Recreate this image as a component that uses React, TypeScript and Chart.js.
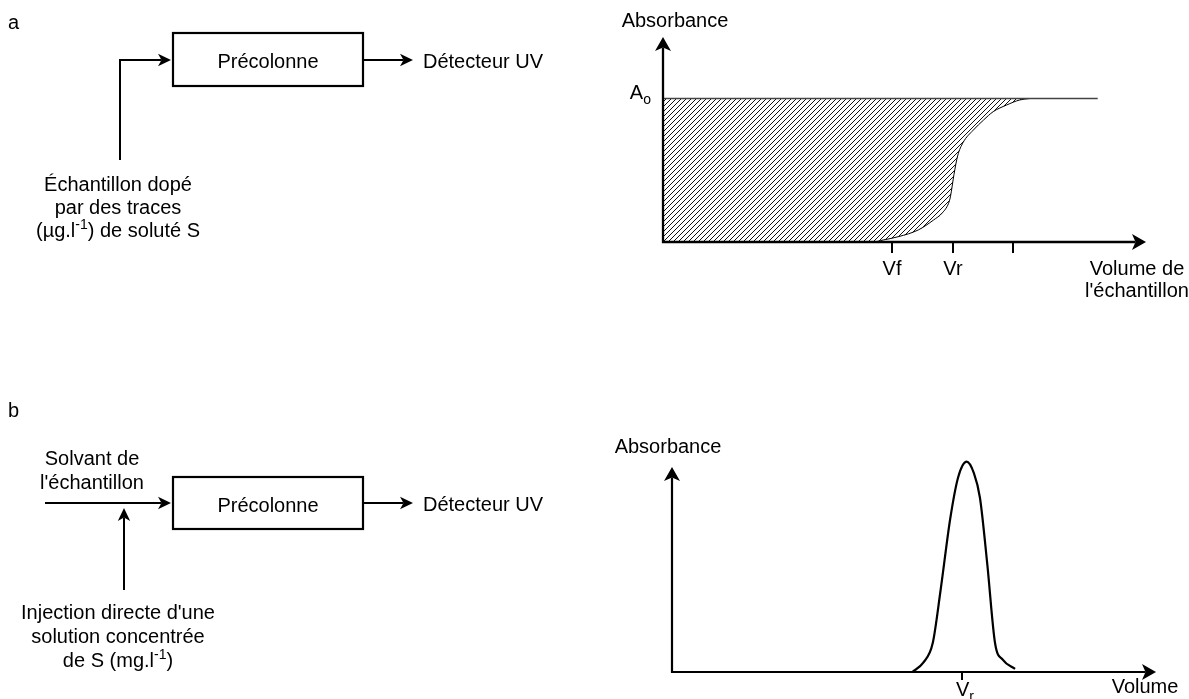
import React, { useEffect, useRef } from 'react';
import { Chart, registerables } from 'chart.js';

Chart.register(...registerables);

const FONT = '"Liberation Sans", Arial, Helvetica, sans-serif';
const FS = 20;

// ---------- Panel a : breakthrough curve ----------
const curveVolumes = [0, 34.8, 36.5, 39.0, 42.3, 44.8, 46.2, 47.3, 47.6, 48.2, 48.8, 49.7, 51.4, 53.1, 54.7, 56.9, 59.1, 60.8];
const curveAbsorbance = [0, 0, 1.0, 2.6, 5.9, 10.7, 14.0, 18.9, 22, 33, 42, 48.5, 54.6, 59.5, 63.6, 66.8, 69.3, 70];
const plateauVolumes = [0, 72];
const plateauAbsorbance = [70, 70];
const topTickValues = [38, 48, 58];
const topTickLabels = ['Vf', 'Vr', ''];
const topA0Value = 70;

// ---------- Panel b : elution peak ----------
const peakVolumes = [39.7, 41.5, 43.1, 44.4, 46.0, 47.3, 48.7, 49.9, 50.9, 52.1, 53.4, 54.7, 56.7];
const peakAbsorbance = [0, 4.4, 14.1, 40, 75, 95, 102.6, 97, 85, 53, 14, 5.9, 1.5];
const bottomTickValues = [48];
const bottomTickLabels: [string, string][] = [['V', 'r']];

// ---------- texts ----------
const labelA = 'a';
const labelB = 'b';
const boxText = 'Précolonne';
const detectorText = 'Détecteur UV';
const absorbanceText = 'Absorbance';
const topXTitle = ['Volume de', "l'échantillon"];
const bottomXTitle = 'Volume';
type Seg = { t: string; s?: 'sup' | 'sub' };
const sampleA: Seg[][] = [
  [{ t: 'Échantillon dopé' }],
  [{ t: 'par des traces' }],
  [{ t: '(µg.l' }, { t: '-1', s: 'sup' }, { t: ') de soluté S' }],
];
const solventB = ['Solvant de', "l'échantillon"];
const injectionB: Seg[][] = [
  [{ t: "Injection directe d'une" }],
  [{ t: 'solution concentrée' }],
  [{ t: 'de S (mg.l' }, { t: '-1', s: 'sup' }, { t: ')' }],
];

function toPts(xs: number[], ys: number[]) {
  return xs.map((x, i) => ({ x, y: ys[i] }));
}

function richLine(ctx: CanvasRenderingContext2D, segs: Seg[], x: number, y: number, align: 'center' | 'left' | 'right', size = FS) {
  const big = `${size}px ${FONT}`;
  const small = `${Math.round(size * 0.68)}px ${FONT}`;
  let total = 0;
  const widths = segs.map((sg) => {
    ctx.font = sg.s ? small : big;
    const w = ctx.measureText(sg.t).width;
    total += w;
    return w;
  });
  let cx = align === 'center' ? x - total / 2 : align === 'right' ? x - total : x;
  ctx.textAlign = 'left';
  ctx.textBaseline = 'alphabetic';
  ctx.fillStyle = '#000';
  segs.forEach((sg, i) => {
    ctx.font = sg.s ? small : big;
    const dy = sg.s === 'sup' ? -size * 0.38 : sg.s === 'sub' ? size * 0.25 : 0;
    ctx.fillText(sg.t, cx, y + dy);
    cx += widths[i];
  });
}

function text(ctx: CanvasRenderingContext2D, t: string, x: number, y: number, align: CanvasTextAlign = 'center') {
  ctx.font = `${FS}px ${FONT}`;
  ctx.textAlign = align;
  ctx.textBaseline = 'alphabetic';
  ctx.fillStyle = '#000';
  ctx.fillText(t, x, y);
}

function head(ctx: CanvasRenderingContext2D, tx: number, ty: number, dx: number, dy: number, len: number, hw: number, notch: number) {
  const px = -dy, py = dx;
  const bx = tx - dx * len, by = ty - dy * len;
  ctx.beginPath();
  ctx.moveTo(tx, ty);
  ctx.lineTo(bx + px * hw, by + py * hw);
  ctx.lineTo(tx - dx * (len - notch), ty - dy * (len - notch));
  ctx.lineTo(bx - px * hw, by - py * hw);
  ctx.closePath();
  ctx.fillStyle = '#000';
  ctx.fill();
}

function polyArrow(ctx: CanvasRenderingContext2D, pts: [number, number][], lw = 2, len = 13, hw = 6.2, notch = 3.5) {
  const n = pts.length;
  const [x2, y2] = pts[n - 1];
  const [x1, y1] = pts[n - 2];
  const d = Math.hypot(x2 - x1, y2 - y1);
  const dx = (x2 - x1) / d, dy = (y2 - y1) / d;
  ctx.strokeStyle = '#000';
  ctx.lineWidth = lw;
  ctx.lineJoin = 'miter';
  ctx.lineCap = 'butt';
  ctx.beginPath();
  ctx.moveTo(pts[0][0], pts[0][1]);
  for (let i = 1; i < n - 1; i++) ctx.lineTo(pts[i][0], pts[i][1]);
  ctx.lineTo(x2 - dx * (len - notch), y2 - dy * (len - notch));
  ctx.stroke();
  head(ctx, x2, y2, dx, dy, len, hw, notch);
}

function box(ctx: CanvasRenderingContext2D, x: number, y: number, w: number, h: number) {
  ctx.strokeStyle = '#000';
  ctx.lineWidth = 2.2;
  ctx.strokeRect(x, y, w, h);
}

function drawAxes(ctx: CanvasRenderingContext2D, x0: number, y0: number, yTip: number, xTip: number, lw: number) {
  const len = 14, hw = 8, notch = 3.5;
  ctx.strokeStyle = '#000';
  ctx.lineWidth = lw;
  ctx.lineJoin = 'miter';
  ctx.lineCap = 'butt';
  ctx.beginPath();
  ctx.moveTo(x0, yTip + len - notch);
  ctx.lineTo(x0, y0);
  ctx.lineTo(xTip - len + notch, y0);
  ctx.stroke();
  head(ctx, x0, yTip, 0, -1, len, hw, notch);
  head(ctx, xTip, y0, 1, 0, len, hw, notch);
}

const topDecor = {
  id: 'topDecor',
  afterDatasetsDraw(chart: any) {
    const { ctx } = chart;
    const xs = chart.scales.x, ys = chart.scales.y;
    const x0 = xs.getPixelForValue(0);
    const y0 = ys.getPixelForValue(0);
    const yTip = ys.getPixelForValue(100);
    const xTip = xs.getPixelForValue(80);
    ctx.save();
    drawAxes(ctx, x0, y0, yTip, xTip, 2.3);
    // ticks
    ctx.lineWidth = 2;
    topTickValues.forEach((v, i) => {
      const px = Math.round(xs.getPixelForValue(v));
      ctx.beginPath();
      ctx.moveTo(px, y0);
      ctx.lineTo(px, y0 + 11);
      ctx.stroke();
      if (topTickLabels[i]) text(ctx, topTickLabels[i], px, y0 + 33);
    });
    // A0 label
    const ya = ys.getPixelForValue(topA0Value);
    richLine(ctx, [{ t: 'A' }, { t: 'o', s: 'sub' }], x0 - 12, ya + 0.5, 'right');
    text(ctx, absorbanceText, x0 + 12, yTip - 10);
    text(ctx, topXTitle[0], 1137, y0 + 33);
    text(ctx, topXTitle[1], 1137, y0 + 55);

    // flow diagram a
    text(ctx, labelA, 8, 29, 'left');
    box(ctx, 173, 33, 190, 53);
    text(ctx, boxText, 268, 68);
    polyArrow(ctx, [[363, 60], [413, 60]]);
    text(ctx, detectorText, 423, 68, 'left');
    polyArrow(ctx, [[120, 160], [120, 60], [171, 60]]);
    sampleA.forEach((line, i) => richLine(ctx, line, 118, 191 + i * 23, 'center'));
    ctx.restore();
  },
};

const bottomDecor = {
  id: 'bottomDecor',
  afterDatasetsDraw(chart: any) {
    const { ctx } = chart;
    const xs = chart.scales.x, ys = chart.scales.y;
    const x0 = xs.getPixelForValue(0);
    const y0 = ys.getPixelForValue(0);
    const yTip = ys.getPixelForValue(100);
    const xTip = xs.getPixelForValue(80);
    ctx.save();
    drawAxes(ctx, x0, y0, yTip, xTip, 2.2);
    ctx.lineWidth = 2;
    bottomTickValues.forEach((v, i) => {
      const px = Math.round(xs.getPixelForValue(v));
      ctx.beginPath();
      ctx.moveTo(px, y0);
      ctx.lineTo(px, y0 + 8);
      ctx.stroke();
      const [main, sub] = bottomTickLabels[i];
      richLine(ctx, [{ t: main }, { t: sub, s: 'sub' }], px + 3, y0 + 24, 'center');
    });
    text(ctx, absorbanceText, x0 - 4, yTip - 14);
    text(ctx, bottomXTitle, 1145, y0 + 21);

    // flow diagram b (page coordinates)
    ctx.translate(0, -350);
    text(ctx, labelB, 8, 417, 'left');
    solventB.forEach((t, i) => text(ctx, t, 92, 465 + i * 24));
    polyArrow(ctx, [[45, 503], [171, 503]]);
    polyArrow(ctx, [[124, 590], [124, 508]]);
    box(ctx, 173, 477, 190, 52);
    text(ctx, boxText, 268, 512);
    polyArrow(ctx, [[363, 503], [413, 503]]);
    text(ctx, detectorText, 423, 511, 'left');
    injectionB.forEach((line, i) => richLine(ctx, line, 118, 619 + i * 24, 'center'));
    ctx.restore();
  },
};

function makeHatch(ctx: CanvasRenderingContext2D) {
  const s = 5;
  const tile = document.createElement('canvas');
  tile.width = s;
  tile.height = s;
  const t = tile.getContext('2d')!;
  t.strokeStyle = '#111';
  t.lineWidth = 1;
  t.beginPath();
  t.moveTo(-1, s + 1);
  t.lineTo(s + 1, -1);
  t.moveTo(-1, 1);
  t.lineTo(1, -1);
  t.moveTo(s - 1, s + 1);
  t.lineTo(s + 1, s - 1);
  t.stroke();
  return ctx.createPattern(tile, 'repeat')!;
}

const baseOptions = (padding: any, yMax: number): any => ({
  responsive: false,
  animation: false,
  devicePixelRatio: 1,
  events: [],
  layout: { padding },
  plugins: { legend: { display: false }, tooltip: { enabled: false }, title: { display: false } },
  elements: { point: { radius: 0 } },
  scales: {
    x: { type: 'linear', min: 0, max: 80, display: false },
    y: { type: 'linear', min: 0, max: yMax, display: false },
  },
});

export default function App() {
  const topRef = useRef<HTMLCanvasElement>(null);
  const botRef = useRef<HTMLCanvasElement>(null);

  useEffect(() => {
    const tc = topRef.current!;
    const bc = botRef.current!;
    const hatch = makeHatch(tc.getContext('2d')!);
    const top = new Chart(tc, {
      type: 'line',
      data: {
        datasets: [
          {
            data: toPts(plateauVolumes, plateauAbsorbance),
            borderColor: '#444',
            borderWidth: 1.5,
            fill: false,
            pointRadius: 0,
          },
          {
            data: toPts(curveVolumes, curveAbsorbance),
            borderColor: '#000',
            borderWidth: 1,
            backgroundColor: hatch as any,
            fill: { value: topA0Value },
            cubicInterpolationMode: 'monotone',
            pointRadius: 0,
          },
        ],
      },
      options: baseOptions({ left: 663, right: 43, top: 37, bottom: 108 }, 100),
      plugins: [topDecor],
    } as any);
    const bottom = new Chart(bc, {
      type: 'line',
      data: {
        datasets: [
          {
            data: toPts(peakVolumes, peakAbsorbance),
            borderColor: '#000',
            borderWidth: 2.2,
            fill: false,
            cubicInterpolationMode: 'monotone',
            pointRadius: 0,
          },
        ],
      },
      options: baseOptions({ left: 672, right: 33, top: 96.5, bottom: 27 }, 110),
      plugins: [bottomDecor],
    } as any);
    return () => {
      top.destroy();
      bottom.destroy();
    };
  }, []);

  return (
    <div style={{ position: 'fixed', left: 0, top: 0, width: 1189, height: 699, background: '#fff', overflow: 'hidden' }}>
      <canvas ref={topRef} width={1189} height={350} style={{ position: 'absolute', left: 0, top: 0 }} />
      <canvas ref={botRef} width={1189} height={349} style={{ position: 'absolute', left: 0, top: 350 }} />
    </div>
  );
}
